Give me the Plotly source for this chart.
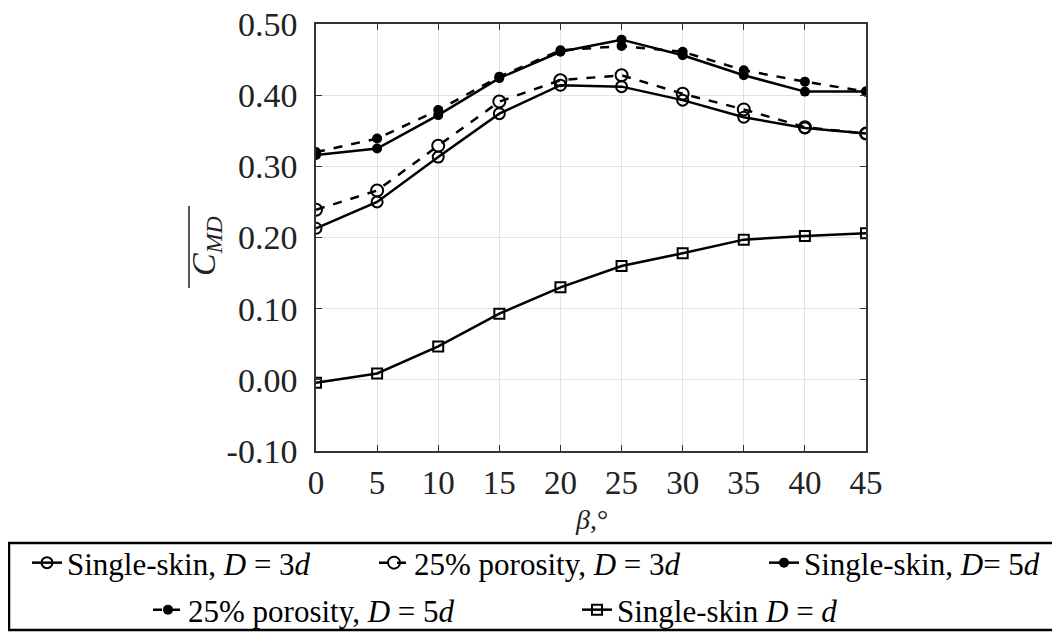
import plotly.graph_objects as go

beta = [0, 5, 10, 15, 20, 25, 30, 35, 40, 45]
ss_3d = [0.213, 0.250, 0.313, 0.374, 0.414, 0.412, 0.393, 0.369, 0.354, 0.346]
por_3d = [0.239, 0.266, 0.329, 0.391, 0.421, 0.428, 0.402, 0.380, 0.355, 0.346]
ss_5d = [0.316, 0.325, 0.372, 0.424, 0.461, 0.478, 0.456, 0.428, 0.405, 0.405]
por_5d = [0.320, 0.339, 0.379, 0.426, 0.463, 0.469, 0.461, 0.435, 0.419, 0.405]
ss_d = [-0.004, 0.009, 0.047, 0.093, 0.130, 0.160, 0.178, 0.197, 0.202, 0.206]

y_ticks = [-0.10, 0.00, 0.10, 0.20, 0.30, 0.40, 0.50]
y_tick_text = ["-0.10", "0.00", "0.10", "0.20", "0.30", "0.40", "0.50"]

names = [
    "Single-skin, <i>D</i> = 3<i>d</i>",
    "25% porosity, <i>D</i> = 3<i>d</i>",
    "Single-skin, <i>D</i>= 5<i>d</i>",
    "25% porosity, <i>D</i> = 5<i>d</i>",
    "Single-skin <i>D</i> = <i>d</i>",
]

FONT = "Liberation Serif"

# page offset (body margin) and figure size
OFF = 8
FW, FH = 1060, 633

# plot area in window pixels
L, R, T, B = 316, 866, 24, 451
W, H = R - L, B - T

def px(xp):
    return (xp - L) / W

def py(yp):
    return (B - yp) / H

series = [
    (ss_3d, "solid", dict(symbol="circle-open", size=11, color="black", line=dict(width=2, color="black"))),
    (por_3d, "dash", dict(symbol="circle-open", size=12, color="black", line=dict(width=2, color="black"))),
    (ss_5d, "solid", dict(symbol="circle", size=10, color="black")),
    (por_5d, "dash", dict(symbol="circle", size=10, color="black")),
    (ss_d, "solid", dict(symbol="square-open", size=10, color="black", line=dict(width=2, color="black"))),
]

legend_pos = [
    (27, 563), (374, 563), (764, 563),
    (148, 610), (577, 610),
]

fig = go.Figure()
for i, ((vals, dash, marker), name) in enumerate(zip(series, names)):
    fig.add_trace(go.Scatter(
        x=beta, y=vals, mode="lines+markers", name=name,
        line=dict(color="black", width=2.5, dash=dash),
        marker=marker,
        legend="legend" if i == 0 else f"legend{i+1}",
    ))

legend_common = dict(
    orientation="h", xanchor="left", yanchor="middle",
    bgcolor="rgba(0,0,0,0)", borderwidth=0,
    font=dict(family=FONT, size=31, color="black"),
    itemsizing="trace",
)
legends = {}
for i, (lx, ly) in enumerate(legend_pos):
    key = "legend" if i == 0 else f"legend{i+1}"
    legends[key] = dict(legend_common, x=px(lx), y=py(ly))

fig.update_layout(
    width=FW, height=FH,
    margin=dict(l=L - OFF, r=FW - (R - OFF), t=T - OFF, b=FH - (B - OFF), autoexpand=False),
    paper_bgcolor="white", plot_bgcolor="white",
    showlegend=True,
    **legends,
    xaxis=dict(
        range=[0, 45], tickvals=beta, ticktext=[str(b) for b in beta],
        showgrid=True, gridcolor="#e3e3e3", gridwidth=1,
        showline=True, linecolor="#333333", linewidth=1.5, mirror="ticks",
        ticks="inside", ticklen=6, tickcolor="#333333",
        tickfont=dict(family=FONT, size=33, color="#222222"),
        ticklabelstandoff=2, ticklabeloverflow="allow",
        zeroline=False, automargin=False,
    ),
    yaxis=dict(
        range=[-0.10, 0.50], tickvals=y_ticks, ticktext=y_tick_text,
        showgrid=True, gridcolor="#e3e3e3", gridwidth=1,
        showline=True, linecolor="#333333", linewidth=1.5, mirror="ticks",
        ticks="inside", ticklen=6, tickcolor="#333333",
        tickfont=dict(family=FONT, size=34, color="#222222"),
        ticklabelstandoff=10, ticklabeloverflow="allow",
        zeroline=False, automargin=False,
    ),
    shapes=[
        dict(
            type="rect", xref="paper", yref="paper",
            x0=px(9), x1=px(1057), y0=py(630), y1=py(543),
            line=dict(color="black", width=2.5), fillcolor="rgba(0,0,0,0)",
        ),
        dict(
            type="line", xref="paper", yref="paper",
            x0=px(189), x1=px(189), y0=py(206), y1=py(288),
            line=dict(color="#222222", width=1.5),
        ),
    ],
    annotations=[
        dict(
            text="<i>C</i><sub><i>MD</i></sub>",
            xref="paper", yref="paper", x=px(206), y=py(246),
            xanchor="center", yanchor="middle",
            showarrow=False, textangle=-90,
            font=dict(family=FONT, size=34, color="#222222"),
        ),
        dict(
            text="<i>β</i>,°", xref="paper", yref="paper",
            x=px(591), y=py(519), xanchor="center", yanchor="middle",
            showarrow=False,
            font=dict(family=FONT, size=28, color="#222222"),
        ),
    ],
)

fig.write_html("out.html")
